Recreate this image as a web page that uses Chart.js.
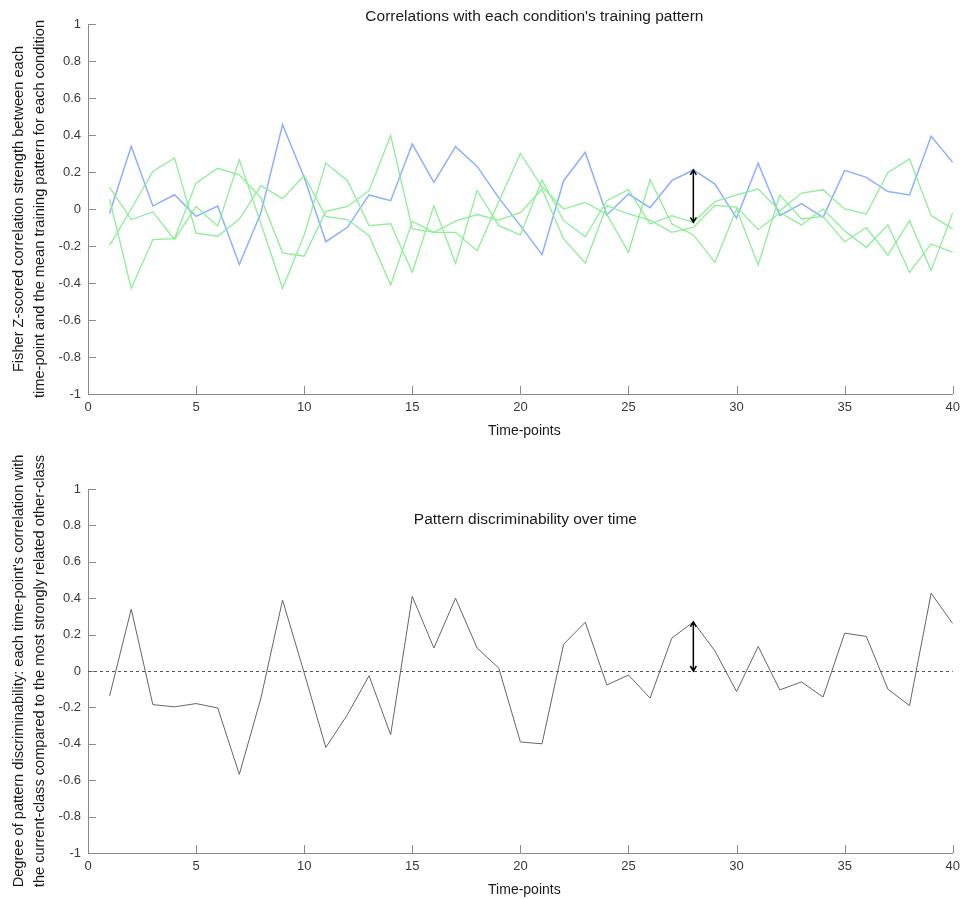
<!DOCTYPE html>
<html>
<head>
<meta charset="utf-8">
<script src="https://cdn.jsdelivr.net/npm/chart.js@4.4.1/dist/chart.umd.min.js"></script>
<style>
  html, body { margin: 0; padding: 0; background: #fff; }
  .box { position: absolute; left: 0; width: 966px; }
  #top { top: 0; height: 450px; }
  #bot { top: 450px; height: 449px; }
</style>
</head>
<body>
<div class="box" id="top"><canvas id="c1"></canvas></div>
<div class="box" id="bot"><canvas id="c2"></canvas></div>
<script>
// time axis
const timePoints = [1, 2, 3, 4, 5, 6, 7, 8, 9, 10, 11, 12, 13, 14, 15, 16, 17, 18, 19, 20,
                    21, 22, 23, 24, 25, 26, 27, 28, 29, 30, 31, 32, 33, 34, 35, 36, 37, 38, 39, 40];

// correlation with the current class's own training pattern (blue)
const currentClass = [-0.023, 0.339, 0.016, 0.077, -0.04, 0.016, -0.30, -0.02, 0.456, 0.17,
                      -0.177, -0.099, 0.076, 0.045, 0.351, 0.144, 0.337, 0.23, 0.06, -0.09,
                      -0.247, 0.153, 0.306, -0.032, 0.081, 0.007, 0.153, 0.211, 0.135, -0.049,
                      0.247, -0.036, 0.029, -0.045, 0.209, 0.171, 0.094, 0.076, 0.393, 0.252];

// correlations with the other classes (green)
const otherClass1 = [0.117, -0.057, -0.016, -0.165, 0.014, -0.093, 0.266, -0.08, -0.43, -0.14,
                     0.248, 0.153, -0.09, -0.08, -0.342, 0.018, -0.294, 0.10, -0.09, -0.14,
                     0.157, -0.063, -0.15, 0.045, 0.105, -0.081, -0.036, -0.072, 0.04, 0.076,
                     0.108, -0.01, 0.086, 0.104, 0.0, -0.027, 0.198, 0.27, -0.036, -0.108];
const otherClass2 = [0.054, -0.43, -0.165, -0.16, 0.14, 0.22, 0.185, 0.06, -0.237, -0.255,
                     -0.013, 0.014, 0.099, 0.397, -0.108, -0.126, -0.126, -0.226, 0.04, 0.30,
                     0.12, 0.0, 0.036, -0.03, -0.234, 0.159, -0.08, -0.14, -0.288, 0.0,
                     -0.303, 0.076, -0.054, -0.04, -0.177, -0.10, -0.249, -0.063, -0.333, -0.02];
const otherClass3 = [-0.197, 0.0, 0.203, 0.276, -0.13, -0.147, -0.054, 0.126, 0.056, 0.18,
                     -0.04, -0.057, -0.144, -0.41, -0.067, -0.126, -0.066, -0.03, -0.06, -0.02,
                     0.108, -0.162, -0.292, 0.018, -0.027, -0.06, -0.126, -0.10, 0.02, 0.01,
                     -0.112, -0.02, -0.086, 0.0, -0.117, -0.207, -0.086, -0.342, -0.189, -0.234];

// discriminability: current class minus strongest other class
const discriminability = [-0.137, 0.34, -0.185, -0.197, -0.179, -0.203, -0.568, -0.148, 0.39, -0.01,
                          -0.42, -0.24, -0.026, -0.35, 0.41, 0.126, 0.40, 0.126, 0.016, -0.39,
                          -0.40, 0.147, 0.268, -0.077, -0.022, -0.149, 0.18, 0.27, 0.11, -0.113,
                          0.135, -0.104, -0.06, -0.143, 0.208, 0.19, -0.10, -0.19, 0.427, 0.26];

// ticks
const xTicks = [0, 5, 10, 15, 20, 25, 30, 35, 40];
const xTickLabels = ['0', '5', '10', '15', '20', '25', '30', '35', '40'];
const yTicks = [-1, -0.8, -0.6, -0.4, -0.2, 0, 0.2, 0.4, 0.6, 0.8, 1];
const yTickLabels = ['-1', '-0.8', '-0.6', '-0.4', '-0.2', '0', '0.2', '0.4', '0.6', '0.8', '1'];

// annotated time-point (arrow) and reference line
const arrowTime = 28;
const zeroLine = 0;

const FONT = '"Liberation Sans", Arial, Helvetica, sans-serif';
const axisColor = '#8a8a8a';
const tickColor = '#3a3a3a';
const blue = 'rgb(140,176,255)';
const green = 'rgb(140,238,150)';

const pts = vals => timePoints.map((t, i) => ({ x: t, y: vals[i] }));

// MATLAB style ticks pointing into the axes
const inwardTicks = {
    id: 'inwardTicks',
    afterDatasetsDraw(chart) {
        const { ctx, chartArea: a, scales: { x, y } } = chart;
        ctx.save();
        ctx.strokeStyle = axisColor;
        ctx.lineWidth = 1;
        ctx.beginPath();
        yTicks.forEach(v => {
            const py = Math.round(y.getPixelForValue(v)) + 0.5;
            ctx.moveTo(a.left, py);
            ctx.lineTo(a.left + 8, py);
        });
        xTicks.forEach(v => {
            const px = Math.round(x.getPixelForValue(v)) + 0.5;
            ctx.moveTo(px, a.bottom);
            ctx.lineTo(px, a.bottom - 8);
        });
        ctx.stroke();
        ctx.restore();
    }
};

function drawArrow(ctx, x, y1, y2) {
    ctx.save();
    ctx.strokeStyle = '#000';
    ctx.lineWidth = 1.5;
    ctx.beginPath();
    ctx.moveTo(x, y1);
    ctx.lineTo(x, y2);
    // heads
    const dir = y2 > y1 ? 1 : -1;
    ctx.moveTo(x - 3, y1 + dir * 5);
    ctx.lineTo(x, y1);
    ctx.lineTo(x + 3, y1 + dir * 5);
    ctx.moveTo(x - 3, y2 - dir * 5);
    ctx.lineTo(x, y2);
    ctx.lineTo(x + 3, y2 - dir * 5);
    ctx.stroke();
    ctx.restore();
}

// titles, axis titles and the arrow annotation
function textPlugin(cfg) {
    return {
        id: 'texts',
        afterDraw(chart) {
            const { ctx, chartArea: a, scales: { x, y } } = chart;
            const cx = (a.left + a.right) / 2;
            const cy = (a.top + a.bottom) / 2;
            ctx.save();
            ctx.fillStyle = '#1a1a1a';
            ctx.textAlign = 'center';
            ctx.textBaseline = 'middle';
            ctx.font = '15.5px ' + FONT;
            ctx.fillText(cfg.title, cx + cfg.titleDx, cfg.titleY);
            ctx.font = '14px ' + FONT;
            ctx.fillText('Time-points', cx + 4, a.bottom + 37);
            ctx.font = '14.6px ' + FONT;
            ctx.translate(0, cy);
            ctx.rotate(-Math.PI / 2);
            ctx.fillText(cfg.yTitle[0], 0, 19);
            ctx.fillText(cfg.yTitle[1], 0, 40);
            ctx.restore();

            if (cfg.dashed) {
                const py = Math.round(y.getPixelForValue(zeroLine)) + 0.5;
                ctx.save();
                ctx.strokeStyle = '#555';
                ctx.lineWidth = 1;
                ctx.setLineDash([3, 3]);
                ctx.beginPath();
                ctx.moveTo(a.left, py);
                ctx.lineTo(a.right, py);
                ctx.stroke();
                ctx.restore();
            }
            const i = timePoints.indexOf(arrowTime);
            const [v1, v2] = cfg.arrow(i);
            drawArrow(ctx, x.getPixelForValue(arrowTime), y.getPixelForValue(v1), y.getPixelForValue(v2));
        }
    };
}

function scales(axisHeight) {
    return {
        x: {
            type: 'linear', min: 0, max: 40,
            afterBuildTicks: s => { s.ticks = xTicks.map(v => ({ value: v })); },
            afterFit: s => { s.height = axisHeight; },
            grid: { display: true, drawOnChartArea: false, drawTicks: false },
            border: { display: true, color: axisColor },
            ticks: {
                padding: 6, maxRotation: 0, autoSkip: false, color: tickColor,
                font: { family: FONT, size: 13 },
                callback: (v, i) => xTickLabels[i]
            }
        },
        y: {
            type: 'linear', min: -1, max: 1,
            afterBuildTicks: s => { s.ticks = yTicks.map(v => ({ value: v })); },
            afterFit: s => { s.width = 88; },
            grid: { display: true, drawOnChartArea: false, drawTicks: false },
            border: { display: true, color: axisColor },
            ticks: {
                padding: 7, color: tickColor,
                font: { family: FONT, size: 13 },
                callback: (v, i) => yTickLabels[i]
            }
        }
    };
}

const lineDs = (vals, color, width) => ({
    data: pts(vals), borderColor: color, borderWidth: width,
    pointRadius: 0, tension: 0, fill: false
});

const baseOptions = {
    responsive: true,
    maintainAspectRatio: false,
    animation: false,
    plugins: { legend: { display: false }, tooltip: { enabled: false } }
};

new Chart(document.getElementById('c1'), {
    type: 'line',
    data: {
        datasets: [
            lineDs(otherClass1, green, 1.3),
            lineDs(otherClass2, green, 1.3),
            lineDs(otherClass3, green, 1.3),
            lineDs(currentClass, blue, 1.5)
        ]
    },
    options: {
        ...baseOptions,
        layout: { padding: { top: 24, right: 8, left: 0, bottom: 0 } },
        scales: scales(56)
    },
    plugins: [inwardTicks, textPlugin({
        title: "Correlations with each condition's training pattern",
        titleDx: 14, titleY: 17,
        yTitle: ['Fisher Z-scored correlation strength between each',
                 'time-point and the mean training pattern for each condition'],
        dashed: false,
        arrow: i => [currentClass[i], Math.max(otherClass1[i], otherClass2[i], otherClass3[i])]
    })]
});

new Chart(document.getElementById('c2'), {
    type: 'line',
    data: {
        datasets: [lineDs(discriminability, '#666666', 1)]
    },
    options: {
        ...baseOptions,
        layout: { padding: { top: 39, right: 8, left: 0, bottom: 0 } },
        scales: scales(46)
    },
    plugins: [inwardTicks, textPlugin({
        title: 'Pattern discriminability over time',
        titleDx: 5, titleY: 70,
        yTitle: ["Degree of pattern discriminability: each time-point's correlation with",
                 'the current-class compared to the most strongly related other-class'],
        dashed: true,
        arrow: i => [discriminability[i], zeroLine]
    })]
});
</script>
</body>
</html>
